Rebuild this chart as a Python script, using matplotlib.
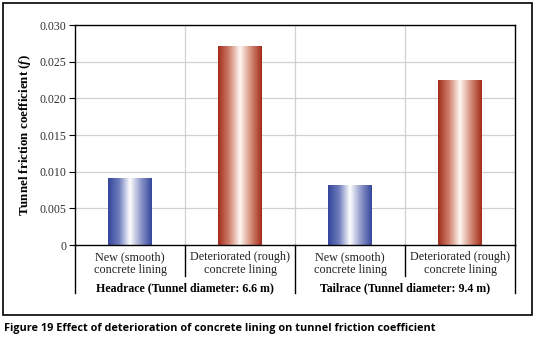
import numpy as np
import matplotlib
matplotlib.use("Agg")
from matplotlib import pyplot as plt
from matplotlib.colors import LinearSegmentedColormap
from matplotlib.patches import Rectangle

# data
categories = ["New (smooth)\nconcrete lining", "Deteriorated (rough)\nconcrete lining",
              "New (smooth)\nconcrete lining", "Deteriorated (rough)\nconcrete lining"]
groups = ["Headrace (Tunnel diameter: 6.6 m)", "Tailrace (Tunnel diameter: 9.4 m)"]
friction = [0.0091, 0.0272, 0.0082, 0.0225]
bar_kind = ["new", "old", "new", "old"]
yticks = [0, 0.005, 0.010, 0.015, 0.020, 0.025, 0.030]
ytick_labels = ["0", "0.005", "0.010", "0.015", "0.020", "0.025", "0.030"]

plt.rcParams["font.family"] = ["Liberation Serif", "DejaVu Serif"]
plt.rcParams["mathtext.fontset"] = "custom"
plt.rcParams["mathtext.it"] = "Liberation Serif:italic:bold"
plt.rcParams["mathtext.rm"] = "Liberation Serif:bold"

W, H = 537, 339
fig = plt.figure(figsize=(W / 100, H / 100), dpi=100)

# outer frame
fig.patches.append(Rectangle((3 / W, 1 - 315 / H), 529 / W, 312 / H, transform=fig.transFigure,
                             fill=False, edgecolor="black", linewidth=1.2))

ax = fig.add_axes([75 / W, 1 - 245 / H, 440 / W, 220 / H])

x = np.arange(len(friction))
bars = ax.bar(x, friction, width=0.4, color="none", zorder=2)

# gradient colours: dark edge -> white centre -> dark edge
cmaps = {
    "new": LinearSegmentedColormap.from_list("b", [(0, "#34469c"), (0.25, "#6e7cbc"), (0.5, "#ffffff"),
                                                   (0.75, "#8f98c9"), (1, "#34469c")]),
    "old": LinearSegmentedColormap.from_list("r", [(0, "#a32c1a"), (0.25, "#cf7f6c"), (0.5, "#fff8f4"),
                                                   (0.75, "#d48c78"), (1, "#a32c1a")]),
}
grad = np.linspace(0, 1, 256).reshape(1, -1)
for patch, kind in zip(bars.patches, bar_kind):
    x0, y0 = patch.get_x(), patch.get_y()
    w, h = patch.get_width(), patch.get_height()
    im = ax.imshow(grad, cmap=cmaps[kind], aspect="auto", extent=[x0, x0 + w, y0, y0 + h],
                   zorder=2, interpolation="bilinear")
    im.set_clip_path(patch)

ax.set_xlim(-0.5, 3.5)
ax.set_ylim(0, 0.030)
ax.set_yticks(yticks)
ax.set_yticklabels(ytick_labels, fontsize=8.6, color="#333333")
ax.set_xticks([])
ax.tick_params(axis="y", direction="out", length=4, width=0.8, pad=2)

# grid
for t in yticks[1:]:
    ax.axhline(t, color="#d0d0d0", linewidth=0.9, zorder=1)
for b in [0.5, 1.5, 2.5]:
    ax.axvline(b, color="#d0d0d0", linewidth=0.9, zorder=1)

for s in ax.spines.values():
    s.set_linewidth(1.0)

ax.set_ylabel("Tunnel friction coefficient ($f$)", fontsize=9.4, fontweight="bold", labelpad=5)

# category axis with group labels
trans = ax.get_xaxis_transform()
for b in [0.5, 2.5]:
    ax.plot([b, b], [0, -0.141], color="black", linewidth=1.0, transform=trans, clip_on=False)
for b in [-0.5, 1.5, 3.5]:
    ax.plot([b, b], [0, -0.218], color="black", linewidth=1.0, transform=trans, clip_on=False)

for xi, lab in zip(x, categories):
    ax.text(xi, -0.028, lab, transform=trans, ha="center", va="top", fontsize=8.7,
            linespacing=1.05, color="#222222")
for gi, g in enumerate(groups):
    ax.text(2 * gi + 0.5, -0.196, g, transform=trans, ha="center", va="center",
            fontsize=8.6, fontweight="bold")

fig.text(4 / W, 1 - 329 / H, "Figure 19 Effect of deterioration of concrete lining on tunnel friction coefficient",
         fontsize=7.85, fontweight="bold", family=["Open Sans", "DejaVu Sans"], va="center", ha="left")

fig.savefig("out.png", dpi=100)
